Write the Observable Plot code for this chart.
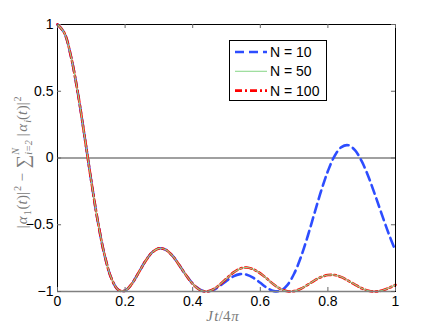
<!DOCTYPE html>
<html>
<head>
<meta charset="utf-8">
<script src="https://cdn.jsdelivr.net/npm/d3@7"></script>
<script src="https://cdn.jsdelivr.net/npm/@observablehq/plot@0.6"></script>
<style>
  html, body { margin: 0; padding: 0; background: white; }
  #chart { position: relative; width: 436px; height: 327px; }
</style>
</head>
<body>
<div id="chart"></div>
<script>
// Jt/4π sample positions
const xs = [0, 0.02, 0.04, 0.06, 0.08, 0.10, 0.12, 0.14, 0.16, 0.18, 0.20, 0.22, 0.24, 0.26, 0.28, 0.30, 0.32, 0.34, 0.36, 0.38, 0.40, 0.42, 0.44, 0.46, 0.48, 0.50, 0.52, 0.54, 0.56, 0.58, 0.60, 0.62, 0.64, 0.66, 0.68, 0.70, 0.72, 0.74, 0.76, 0.78, 0.80, 0.82, 0.84, 0.86, 0.88, 0.90, 0.92, 0.94, 0.96, 0.98, 1.00];

// N = 10
const yN10 = [1, 0.938, 0.759, 0.490, 0.164, -0.174, -0.485, -0.735, -0.905, -0.988, -0.994, -0.942, -0.859, -0.773, -0.707, -0.677, -0.687, -0.732, -0.802, -0.877, -0.941, -0.984, -1.000, -0.989, -0.958, -0.920, -0.887, -0.870, -0.874, -0.898, -0.935, -0.973, -0.997, -0.994, -0.952, -0.867, -0.743, -0.588, -0.416, -0.247, -0.098, 0.016, 0.082, 0.096, 0.059, -0.024, -0.141, -0.280, -0.426, -0.568, -0.696];

// N = 50
const yN50 = [1, 0.938, 0.759, 0.490, 0.164, -0.174, -0.485, -0.735, -0.905, -0.988, -0.994, -0.942, -0.859, -0.773, -0.707, -0.677, -0.687, -0.732, -0.802, -0.877, -0.943, -0.986, -1.000, -0.985, -0.949, -0.903, -0.859, -0.829, -0.820, -0.835, -0.864, -0.905, -0.948, -0.981, -0.998, -0.997, -0.979, -0.950, -0.918, -0.892, -0.877, -0.877, -0.892, -0.919, -0.948, -0.976, -0.994, -1.000, -0.992, -0.974, -0.950];

// N = 100
const yN100 = [1, 0.938, 0.759, 0.490, 0.164, -0.174, -0.485, -0.735, -0.905, -0.988, -0.994, -0.942, -0.859, -0.773, -0.707, -0.677, -0.687, -0.732, -0.802, -0.877, -0.943, -0.986, -1.000, -0.985, -0.949, -0.903, -0.859, -0.829, -0.820, -0.835, -0.864, -0.905, -0.948, -0.981, -0.998, -0.997, -0.979, -0.950, -0.918, -0.892, -0.877, -0.877, -0.892, -0.919, -0.948, -0.976, -0.994, -1.000, -0.992, -0.974, -0.950];

const seriesNames = ["N = 10", "N = 50", "N = 100"];
const xTicks = [0, 0.2, 0.4, 0.6, 0.8, 1];
const yTicks = [-1, -0.5, 0, 0.5, 1];

const toRows = (ys) => xs.map((x, i) => ({x, y: ys[i]}));
const rows10 = toRows(yN10), rows50 = toRows(yN50), rows100 = toRows(yN100);

const styles = [
  {stroke: "#2d4dff", strokeWidth: 2.6, strokeDasharray: "9,5"},
  {stroke: "#8fd88f", strokeWidth: 1.1},
  {stroke: "#ff0000", strokeWidth: 2.6, strokeDasharray: "7,3,2,3"}
];

const fmt = d3.format("");
const plot = Plot.plot({
  width: 436,
  height: 327,
  marginLeft: 57,
  marginRight: 41,
  marginTop: 24,
  marginBottom: 36,
  style: {fontFamily: "'Liberation Sans', Arial, sans-serif", fontSize: "14px", color: "black", background: "white"},
  x: {domain: [0, 1]},
  y: {domain: [-1, 1]},
  marks: [
    Plot.ruleY([0], {stroke: "#808080", strokeWidth: 1.6}),
    Plot.line(rows10, {x: "x", y: "y", curve: "catmull-rom", ...styles[0]}),
    Plot.line(rows100, {x: "x", y: "y", curve: "catmull-rom", ...styles[2]}),
    Plot.line(rows50, {x: "x", y: "y", curve: "catmull-rom", ...styles[1]}),
    Plot.frame({stroke: "black", strokeWidth: 1}),
    Plot.ruleY([-1], {stroke: "#808080", strokeWidth: 1.6}),
    Plot.ruleX(xTicks, {x: d => d, y1: -1, y2: -0.97, stroke: "#666"}),
    Plot.ruleX(xTicks, {x: d => d, y1: 1, y2: 0.97, stroke: "#666"}),
    Plot.ruleY(yTicks, {y: d => d, x1: 0, x2: 0.012, stroke: "#666"}),
    Plot.ruleY(yTicks, {y: d => d, x1: 1, x2: 0.988, stroke: "#666"}),
    Plot.axisX(xTicks, {tickSize: 0, tickPadding: 5, tickFormat: fmt, label: null, fontSize: 14}),
    Plot.axisY(yTicks, {tickSize: 0, tickPadding: 4, tickFormat: fmt, label: null, fontSize: 14})
  ]
});
document.getElementById("chart").appendChild(plot);

const svg = d3.select(plot);

// Lay out a sequence of rich text pieces inside a group; returns total width
function richText(g, pieces, size, color) {
  g.attr("text-anchor", "start");
  let x = 0;
  for (const p of pieces) {
    if (p.stack) {
      const fs = size * 0.68;
      const a = g.append("text").attr("x", x).attr("y", -size * 0.55).text(p.stack[0])
        .attr("font-size", fs).attr("font-style", "italic");
      const b = g.append("text").attr("x", x).attr("y", size * 0.34).text(p.stack[1])
        .attr("font-size", fs).attr("font-style", "italic");
      x += Math.max(a.node().getComputedTextLength(), b.node().getComputedTextLength()) + 1;
      continue;
    }
    const fs = p.sub || p.sup ? size * 0.68 : (p.big ? size * 1.25 : size);
    const y = p.sub ? size * 0.28 : p.sup ? -size * 0.42 : (p.big ? size * 0.12 : 0);
    const t = g.append("text").attr("x", x).attr("y", y).text(p.t)
      .attr("font-size", fs)
      .attr("font-style", p.it ? "italic" : "normal");
    x += t.node().getComputedTextLength() + (p.it ? 0.5 : 0);
  }
  g.selectAll("text").attr("fill", color).attr("text-anchor", "start")
    .attr("font-family", "'Liberation Serif', 'DejaVu Serif', serif")
    .style("white-space", "pre");
  return x;
}

// y label
const gy = svg.append("g");
const gyInner = gy.append("g");
const wy = richText(gyInner, [
  {t: "|"}, {t: "α", it: true}, {t: "1", sub: true}, {t: "("}, {t: "t", it: true}, {t: ")|"}, {t: "2", sup: true},
  {t: " − "}, {t: "∑", big: true}, {stack: ["N", "i=2"]},
  {t: " |"}, {t: "α", it: true}, {t: "i", it: true, sub: true}, {t: "("}, {t: "t", it: true}, {t: ")|"}, {t: "2", sup: true}
], 15, "#7a7a7a");
gyInner.attr("transform", `translate(${-wy / 2},0)`);
gy.attr("transform", "translate(27,162) rotate(-90)");

// x label
const gx = svg.append("g");
const gxInner = gx.append("g");
const wx = richText(gxInner, [
  {t: "J", it: true}, {t: "t", it: true}, {t: "/4"}, {t: "π", it: true}
], 15, "#7a7a7a");
gxInner.attr("transform", `translate(${-wx / 2},0)`);
gx.attr("transform", "translate(224,321)");

// legend
const lg = svg.append("g").attr("font-family", "'Liberation Sans', Arial, sans-serif")
  .attr("font-size", 14).attr("text-anchor", "start");
lg.append("rect").attr("x", 229.5).attr("y", 40.5).attr("width", 97).attr("height", 60)
  .attr("fill", "white").attr("stroke", "black").attr("stroke-width", 1);
seriesNames.forEach((name, i) => {
  const yy = 52 + i * 19.3;
  const s = styles[i];
  lg.append("line").attr("x1", 235).attr("x2", 267).attr("y1", yy).attr("y2", yy)
    .attr("stroke", s.stroke).attr("stroke-width", s.strokeWidth)
    .attr("stroke-dasharray", s.strokeDasharray || null);
  lg.append("text").attr("x", 270).attr("y", yy + 5).text(name).attr("fill", "black").attr("text-anchor", "start");
});
</script>
</body>
</html>
